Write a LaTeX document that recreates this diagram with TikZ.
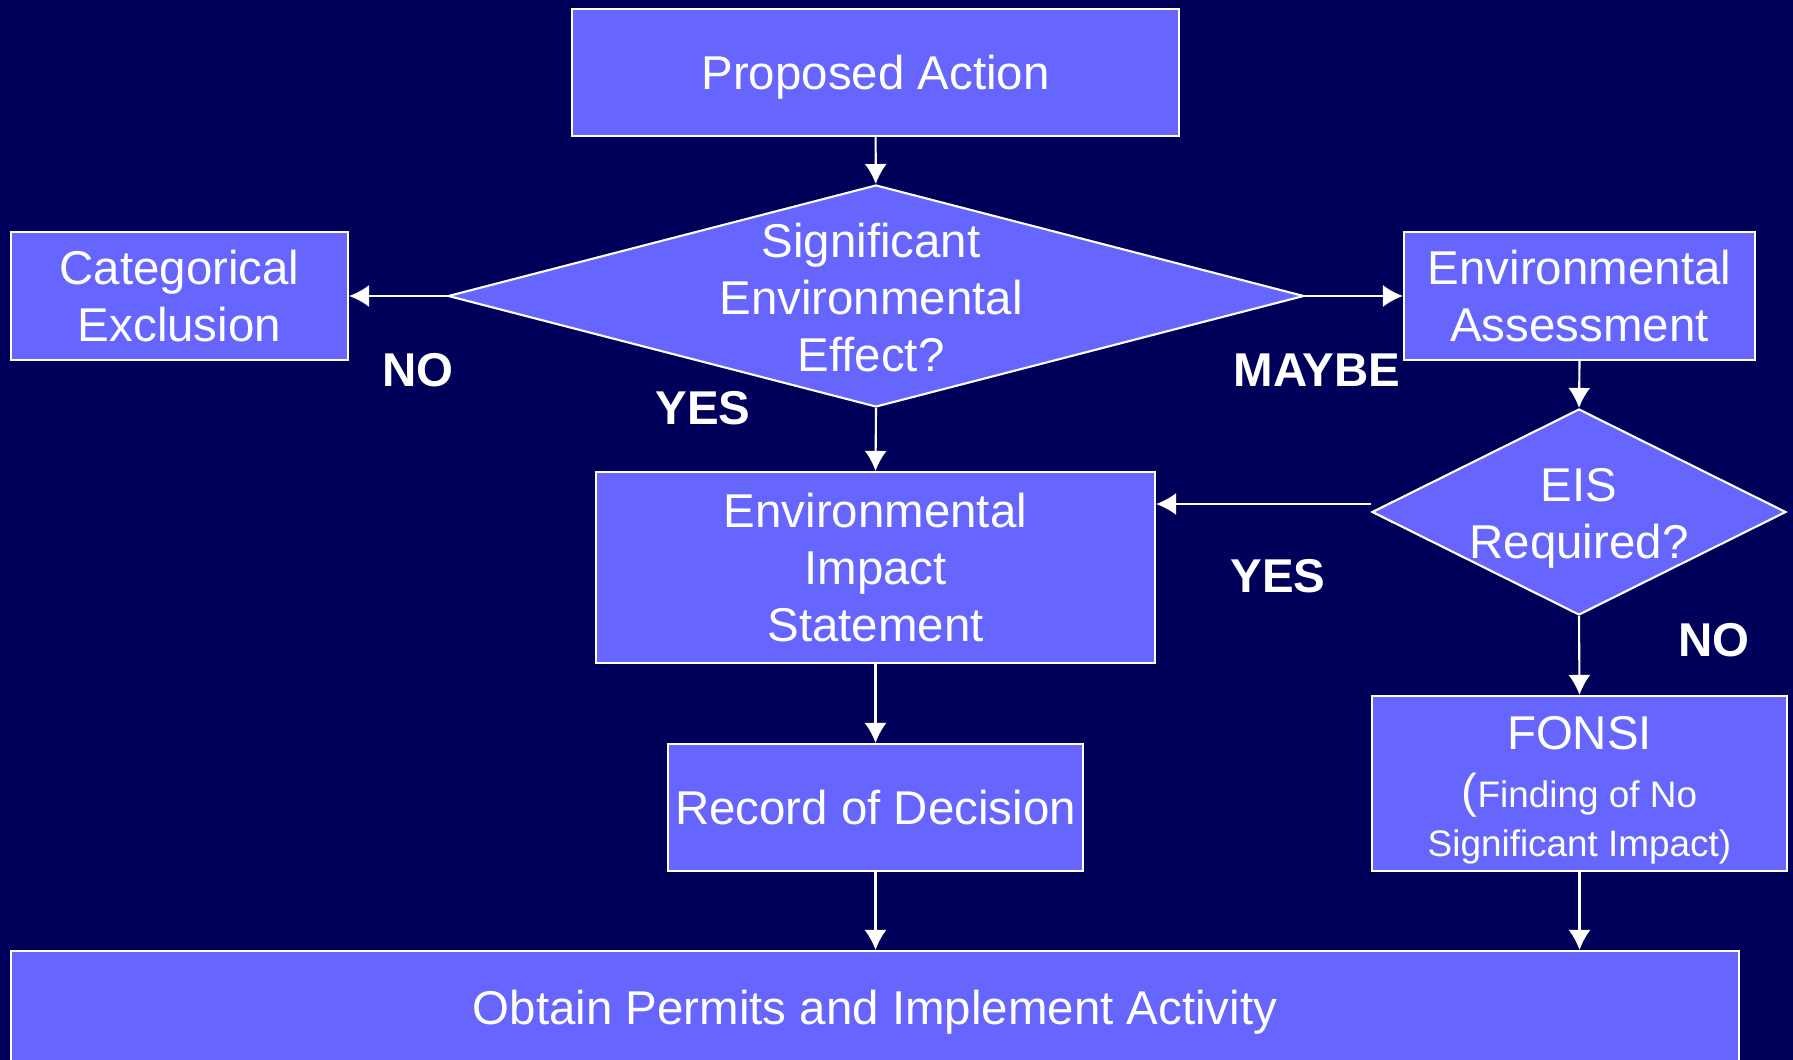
\documentclass[tikz,border=0pt]{standalone}
\usepackage{fontspec}
\setmainfont{Liberation Sans}
\usetikzlibrary{arrows.meta,shapes.geometric}
\definecolor{navy}{RGB}{0,0,90}
\definecolor{boxblue}{RGB}{102,102,255}
\begin{document}
\begin{tikzpicture}[
  box/.style={draw=white,line width=0.6pt,fill=boxblue,text=white,align=center,
    inner sep=0pt,font=\fontsize{13.5}{16.2}\selectfont},
  decision/.style={diamond,draw=white,line width=0.6pt,fill=boxblue,inner sep=0pt},
  dtext/.style={text=white,align=center,font=\fontsize{13.5}{16.2}\selectfont},
  answer/.style={text=white,font=\bfseries\fontsize{13.5}{16.2}\selectfont},
  arr/.style={draw=white,line width=0.6pt,-{Latex[length=0.2cm,width=0.22cm]}}]
\fill[navy] (0,0) rectangle (17.93,-10.60);
\useasboundingbox (0,0) rectangle (17.93,-10.60);

% boxes
\node[box,minimum width=6.07cm,minimum height=1.27cm] (pa) at (8.755,-0.725) {\rule{0pt}{0.43cm}Proposed Action};
\node[box,minimum width=3.37cm,minimum height=1.28cm] (ce) at (1.795,-2.96) {Categorical\\Exclusion};
\node[box,minimum width=3.51cm,minimum height=1.28cm] (ea) at (15.795,-2.96) {Environmental\\Assessment};
\node[box,minimum width=5.59cm,minimum height=1.91cm] (eis) at (8.755,-5.675) {Environmental\\Impact\\Statement};
\node[box,minimum width=4.15cm,minimum height=1.27cm] (rod) at (8.755,-8.075) {Record of Decision};
\node[box,minimum width=4.15cm,minimum height=1.75cm] (fonsi) at (15.795,-7.835)
  {\rule{0pt}{0.474cm}FONSI\\[0.3pt]{\fontsize{13.5}{16.2}\selectfont(}{\fontsize{10.5}{13}\selectfont Finding of No}\\[-2.3pt]
   {\fontsize{10.5}{13}\selectfont Significant Impact)}};
\node[box,minimum width=17.28cm,minimum height=1.23cm] (obtain) at (8.75,-10.125) {Obtain Permits and Implement Activity};

% decisions
\node[decision,minimum width=8.56cm,minimum height=2.22cm] (q1) at (8.76,-2.96) {};
\node[dtext] (q1text) at (8.71,-2.975) {Significant\\Environmental\\Effect?};
\node[decision,minimum width=4.14cm,minimum height=2.06cm] (q2) at (15.79,-5.12) {};
\node[dtext] (q2text) at (15.79,-5.18) {EIS\\Required?};

% answers
\node[answer] (no1) at (4.18,-3.70) {NO};
\node[answer] (yes1) at (7.03,-4.08) {YES};
\node[answer] (maybe) at (13.17,-3.70) {MAYBE};
\node[answer] (yes2) at (12.78,-5.76) {YES};
\node[answer] (no2) at (17.14,-6.40) {NO};

% connectors
\draw[arr] (pa) -- (q1);
\draw[arr] (q1.west) -- (ce.east);
\draw[arr] (q1.east) -- (ea.west);
\draw[arr] (q1.south) -- (eis.north);
\draw[arr] (ea.south) -- (q2.north);
\draw[arr] ([yshift=0.08cm]q2.west) -- ([yshift=0.08cm]q2.west -| eis.east);
\draw[arr] (q2.south) -- (fonsi.north);
\draw[arr] (eis.south) -- (rod.north);
\draw[arr] (rod.south) -- (rod.south |- obtain.north);
\draw[arr] (fonsi.south) -- (fonsi.south |- obtain.north);
\end{tikzpicture}
\end{document}
